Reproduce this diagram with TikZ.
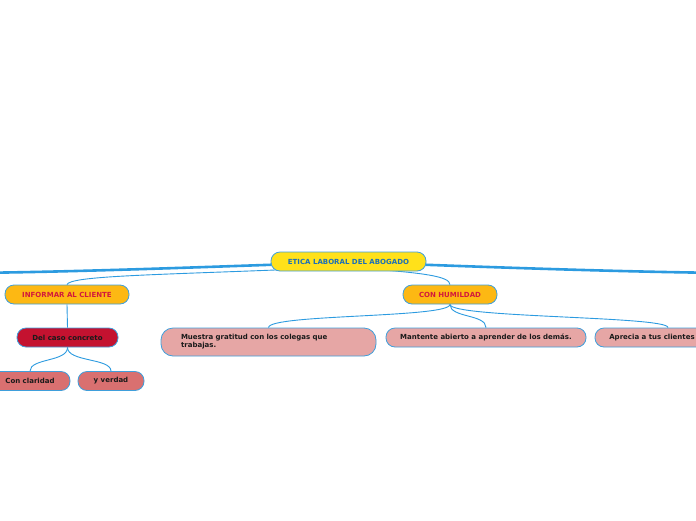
\documentclass[tikz,border=0pt]{standalone}
\usepackage{fontspec}
\setmainfont{DejaVu Sans}
\usetikzlibrary{backgrounds}
\definecolor{lineblue}{HTML}{2C9BE0}
\definecolor{edgeblue}{HTML}{3F9FDB}
\definecolor{rootfill}{HTML}{FFE11A}
\definecolor{roottext}{HTML}{1B6FB8}
\definecolor{orangefill}{HTML}{FDB813}
\definecolor{orangetext}{HTML}{D2193C}
\definecolor{crimson}{HTML}{C41230}
\definecolor{salmon}{HTML}{D97070}
\definecolor{pinkfill}{HTML}{E6A6A5}
\definecolor{darktext}{HTML}{1A1A1A}
\tikzset{
  box/.style={draw=edgeblue, line width=0.8pt, rounded corners=9pt, inner sep=0pt,
    minimum height=19pt, font=\fontsize{7}{8}\selectfont\bfseries, text=darktext},
  rootbox/.style={box, fill=rootfill, text=roottext, minimum width=155pt},
  mainbox/.style={box, fill=orangefill, text=orangetext},
  subbox/.style={box, fill=crimson},
  leafbox/.style={box, fill=salmon},
  pinkbox/.style={box, fill=pinkfill},
  thin/.style={draw=lineblue, line width=0.9pt},
  thick/.style={draw=lineblue, line width=2.6pt},
}
\begin{document}
\begin{tikzpicture}[x=1pt,y=-1pt]
\clip (0,0) rectangle (696,520);
\coordinate (offL) at (-30,273);
\coordinate (offR) at (726,273);
\node[rootbox] (root) at (348.5,261.5) {ETICA LABORAL DEL ABOGADO};

\node[mainbox, minimum width=124pt] (inf) at (67,294.5) {INFORMAR AL CLIENTE};
\node[mainbox, minimum width=94pt] (hum) at (450,294.5) {CON HUMILDAD};
\node[subbox, minimum width=101pt] (caso) at (67.5,337.5) {Del caso concreto};
\node[leafbox, minimum width=80pt] (clar) at (30,381) {Con claridad};
\node[leafbox, minimum width=66pt] (verd) at (111,381) {y verdad};
\node[pinkbox, minimum width=215pt, minimum height=28pt, rounded corners=12pt,
  text width=175pt, align=left] (grat) at (268.5,342) {Muestra gratitud con los colegas que\\trabajas.};
\node[pinkbox, minimum width=200pt] (abie) at (486,337.5) {Mantente abierto a aprender de los demás.};
\node[pinkbox, minimum width=114pt] (apre) at (652,337.5) {Aprecia a tus clientes};

\begin{scope}[on background layer]
\fill[white] (0,0) rectangle (696,520);
\draw[thick] (root.west) ++(8,3) .. controls (150,269) and (60,272) .. (offL);
\draw[thick] (root.east) ++(-8,3) .. controls (540,269) and (640,272) .. (offR);
\draw[thin] (root.south west) ++(20,-2) .. controls (150,275) and (70,276) .. (inf.north);
\draw[thin] (root.south east) ++(-50,-2) .. controls (420,273) and (450,276) .. (hum.north);
\draw[thin] (inf.south) -- (caso.north);
\draw[thin] (caso.south) .. controls (67.5,362) and (30,358) .. (clar.north);
\draw[thin] (caso.south) .. controls (67.5,362) and (111,358) .. (verd.north);
\draw[thin] (hum.south) .. controls (450,318) and (268.5,314) .. (grat.north);
\draw[thin] (hum.south) .. controls (450,318) and (486,314) .. (abie.north);
\draw[thin] (hum.south) .. controls (450,318) and (668,316) .. (apre.north -| 668,0);
\end{scope}
\end{tikzpicture}
\end{document}
